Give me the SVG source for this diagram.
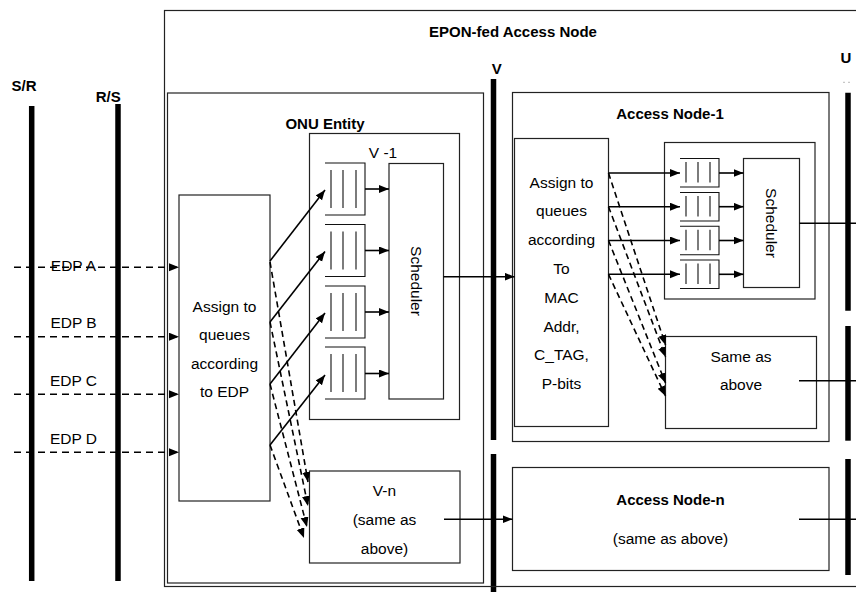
<svg xmlns="http://www.w3.org/2000/svg" xmlns:xlink="http://www.w3.org/1999/xlink" width="856" height="592" viewBox="0 0 856 592">
  <defs>
    <marker id="ah" markerUnits="userSpaceOnUse" markerWidth="11" markerHeight="9" refX="10" refY="4" orient="auto">
      <path d="M0,0 L10,4 L0,8 Z" fill="#000"/>
    </marker>
    <!-- tall queue used inside the ONU -->
    <g id="qTall">
      <path d="M0,0 H40 V52 H0" fill="none" stroke="#111" stroke-width="1.1"/>
      <path d="M6,7 V45 M18,7 V45 M31,7 V45" stroke="#111" stroke-width="1.1"/>
    </g>
    <!-- short queue used inside the access node -->
    <g id="qShort">
      <path d="M0,0 H39 V28.5 H0" fill="none" stroke="#111" stroke-width="1.1"/>
      <path d="M6,3.5 V24 M18,3.5 V24 M30,3.5 V24" stroke="#111" stroke-width="1.1"/>
    </g>
  </defs>
  <style>
    .box { fill: none; stroke: #222; stroke-width: 1.2; }
    .bar { stroke: #000; stroke-width: 5.5; }
    .t { font-family: "Liberation Sans", Arial, sans-serif; font-size: 15.5px; fill: #000; }
    .b { font-weight: bold; font-size: 15px; }
    .c { text-anchor: middle; }
    .ln { stroke: #000; stroke-width: 1.6; fill: none; }
    .arr { stroke: #000; stroke-width: 1.6; fill: none; marker-end: url(#ah); }
    .dash { stroke-dasharray: 7 5; }
    .dd { stroke-dasharray: 6 4; }
  </style>
  <rect width="856" height="592" fill="#fff"/>

  <!-- reference points -->
  <g id="ref-points">
    <text class="t b c" x="24" y="90.5">S/R</text>
    <line class="bar" x1="31.7" y1="106" x2="31.7" y2="581"/>
    <text class="t b c" x="108.3" y="101.5">R/S</text>
    <line class="bar" x1="118" y1="104" x2="118" y2="581"/>
    <text class="t b c" x="496.7" y="74">V</text>
    <line class="bar" x1="493.5" y1="79" x2="493.5" y2="440"/>
    <line class="bar" x1="493.5" y1="454" x2="493.5" y2="592"/>
    <text class="t b c" x="846" y="63">U</text>
    <line x1="843" y1="82.3" x2="853" y2="82.3" stroke="#bbb" stroke-width="1" stroke-dasharray="2 3"/>
    <line class="bar" x1="848" y1="92.7" x2="848" y2="310.7"/>
    <line class="bar" x1="848" y1="326" x2="848" y2="440.7"/>
    <line class="bar" x1="848" y1="459" x2="848" y2="575"/>
  </g>

  <!-- outer access node -->
  <g id="epon-access-node">
    <rect class="box" x="164.5" y="10.5" width="710" height="576"/>
    <text class="t b c" x="513" y="36.5">EPON-fed Access Node</text>
  </g>

  <g id="onu">
    <rect class="box" x="167.5" y="93" width="316" height="490"/>
  </g>

  <g id="onu-assign">
    <rect class="box" x="179" y="195" width="91" height="306"/>
    <text class="t c" x="224.5" y="311.5">Assign to</text>
    <text class="t c" x="224.5" y="340">queues</text>
    <text class="t c" x="224.5" y="368.5">according</text>
    <text class="t c" x="224.5" y="397">to EDP</text>
  </g>

  <g id="onu-entity">
    <text class="t b c" x="325" y="129">ONU Entity</text>
    <rect class="box" x="309.5" y="133.5" width="150" height="286"/>
    <text class="t c" x="383" y="157.5">V -1</text>
  </g>

  <g id="onu-queues">
    <use xlink:href="#qTall" x="325" y="163"/>
    <use xlink:href="#qTall" x="325" y="224.5"/>
    <use xlink:href="#qTall" x="325" y="286"/>
    <use xlink:href="#qTall" x="325" y="347"/>
  </g>

  <g id="onu-scheduler">
    <rect class="box" x="389" y="163.5" width="54.5" height="235.5"/>
    <text class="t c" transform="translate(416.5,281) rotate(90)" y="5.5">Scheduler</text>
  </g>

  <g id="onu-vn">
    <rect class="box" x="309.5" y="471" width="150.5" height="92"/>
    <text class="t c" x="384.5" y="495.5">V-n</text>
    <text class="t c" x="384.5" y="525">(same as</text>
    <text class="t c" x="384.5" y="553.5">above)</text>
  </g>

  <g id="access-node-1">
    <rect class="box" x="512.5" y="92.5" width="316.5" height="349"/>
    <text class="t b c" x="670" y="118.5">Access Node-1</text>
  </g>

  <g id="an-assign">
    <rect class="box" x="514.5" y="138.5" width="94" height="288"/>
    <text class="t c" x="561.5" y="187.5">Assign to</text>
    <text class="t c" x="561.5" y="216.3">queues</text>
    <text class="t c" x="561.5" y="245">according</text>
    <text class="t c" x="561.5" y="274">To</text>
    <text class="t c" x="561.5" y="302.7">MAC</text>
    <text class="t c" x="561.5" y="331.5">Addr,</text>
    <text class="t c" x="561.5" y="360.3">C_TAG,</text>
    <text class="t c" x="561.5" y="389">P-bits</text>
  </g>

  <g id="an-queue-group">
    <rect class="box" x="664.5" y="142.5" width="150.5" height="156.5"/>
    <use xlink:href="#qShort" x="680" y="158.5"/>
    <use xlink:href="#qShort" x="680" y="192.5"/>
    <use xlink:href="#qShort" x="680" y="226.3"/>
    <use xlink:href="#qShort" x="680" y="260"/>
  </g>

  <g id="an-scheduler">
    <rect class="box" x="743.5" y="158.5" width="56" height="129"/>
    <text class="t c" transform="translate(771,223) rotate(90)" y="5.5">Scheduler</text>
  </g>

  <g id="an-same">
    <rect class="box" x="665.5" y="336.5" width="151" height="92"/>
    <text class="t c" x="741" y="362">Same as</text>
    <text class="t c" x="741" y="390">above</text>
  </g>

  <g id="access-node-n">
    <rect class="box" x="512.5" y="467.5" width="316.5" height="103"/>
    <text class="t b c" x="670.5" y="504.5">Access Node-n</text>
    <text class="t c" x="670.5" y="544">(same as above)</text>
  </g>

  <!-- EDP labels sit over their flows -->
  <g id="edp-labels">
    <text class="t c" x="73.5" y="270.5">EDP A</text>
    <text class="t c" x="73.5" y="328">EDP B</text>
    <text class="t c" x="73.5" y="385.5">EDP C</text>
    <text class="t c" x="73.5" y="444">EDP D</text>
  </g>

  <g id="connectors">
    <!-- EDP flows into the ONU -->
    <line class="arr dash" x1="14" y1="267.3" x2="179" y2="267.3"/>
    <line class="arr dash" x1="14" y1="336.7" x2="179" y2="336.7"/>
    <line class="arr dash" x1="14" y1="394.3" x2="179" y2="394.3"/>
    <line class="arr dash" x1="14" y1="452.3" x2="179" y2="452.3"/>

    <!-- ONU classifier to V-1 queues -->
    <line class="arr" x1="270" y1="261" x2="325" y2="190"/>
    <line class="arr" x1="270" y1="322" x2="325" y2="251.5"/>
    <line class="arr" x1="270" y1="384" x2="325" y2="313"/>
    <line class="arr" x1="270" y1="445" x2="325" y2="375"/>

    <!-- ONU classifier to V-n -->
    <line class="arr dd" x1="270" y1="262" x2="308" y2="482"/>
    <line class="arr dd" x1="270" y1="322" x2="308" y2="506"/>
    <line class="arr dd" x1="270" y1="384" x2="307" y2="527"/>
    <line class="arr dd" x1="270" y1="445" x2="304" y2="538"/>

    <!-- ONU queues to scheduler -->
    <line class="arr" x1="365" y1="189" x2="389" y2="189"/>
    <line class="arr" x1="365" y1="250.5" x2="389" y2="250.5"/>
    <line class="arr" x1="365" y1="312" x2="389" y2="312"/>
    <line class="arr" x1="365" y1="373.5" x2="389" y2="373.5"/>

    <!-- ONU to access nodes across V -->
    <line class="arr" x1="443.5" y1="276.7" x2="514.5" y2="276.7"/>
    <line class="arr" x1="444" y1="519.3" x2="512.5" y2="519.3"/>

    <!-- access node classifier to queues -->
    <line class="arr" x1="608.5" y1="173" x2="680" y2="173"/>
    <line class="arr" x1="608.5" y1="206.7" x2="680" y2="206.7"/>
    <line class="arr" x1="608.5" y1="240.5" x2="680" y2="240.5"/>
    <line class="arr" x1="608.5" y1="274.3" x2="680" y2="274.3"/>

    <!-- access node classifier to the second group -->
    <line class="arr dd" x1="608.5" y1="173" x2="665.5" y2="345"/>
    <line class="arr dd" x1="608.5" y1="206.7" x2="665.5" y2="357"/>
    <line class="arr dd" x1="608.5" y1="240.5" x2="665.5" y2="383"/>
    <line class="arr dd" x1="608.5" y1="274.3" x2="665.5" y2="396"/>

    <!-- access node queues to scheduler -->
    <line class="arr" x1="719" y1="173" x2="743.5" y2="173"/>
    <line class="arr" x1="719" y1="206.7" x2="743.5" y2="206.7"/>
    <line class="arr" x1="719" y1="240.5" x2="743.5" y2="240.5"/>
    <line class="arr" x1="719" y1="274.3" x2="743.5" y2="274.3"/>

    <!-- outputs across U -->
    <line class="ln" x1="799.5" y1="223.3" x2="856" y2="223.3"/>
    <line class="ln" x1="799" y1="380.7" x2="856" y2="380.7"/>
    <line class="ln" x1="799" y1="519.3" x2="856" y2="519.3"/>
  </g>
</svg>
